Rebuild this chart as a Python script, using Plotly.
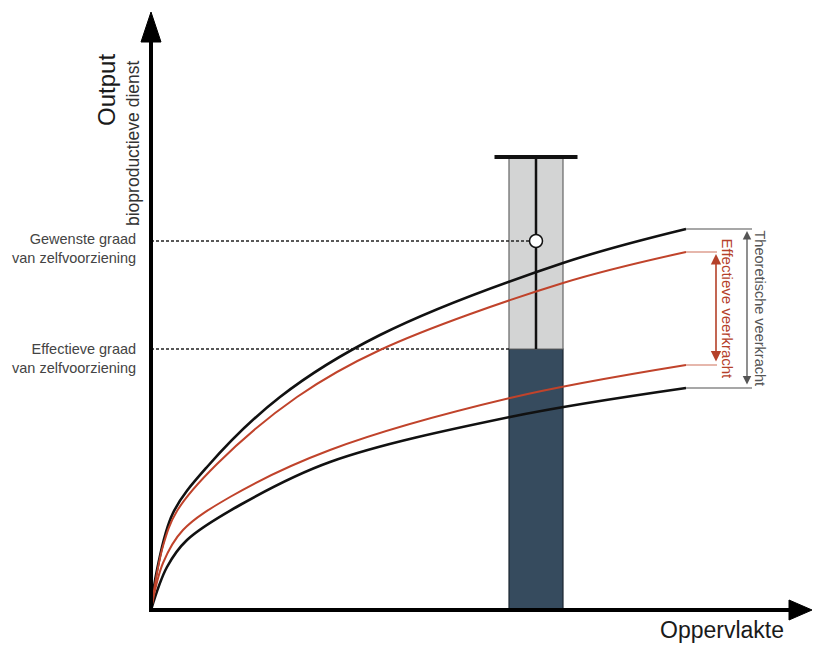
import plotly.graph_objects as go

# ---------------- data (diagram units: origin at the axes' crossing) ----------------
upper_black_x = [0, 6, 22, 56, 129, 229, 412, 535]
upper_black_y = [0, 40, 97, 143, 213, 275, 347, 381]

upper_red_x = [0, 12, 26, 66, 146, 229, 412, 535]
upper_red_y = [0, 64, 99, 146, 213, 260, 327, 358]

lower_red_x = [0, 12, 32, 79, 179, 359, 535]
lower_red_y = [0, 47, 80, 113, 160, 212, 245]

lower_black_x = [0, 16, 36, 89, 179, 359, 535]
lower_black_y = [0, 43, 70, 105, 148, 193, 222]

bar_position = 385
effective_level = 261   # Effectieve graad van zelfvoorziening
desired_level = 369     # Gewenste graad van zelfvoorziening
maximum_level = 453     # top of the range

x_axis_label = "Oppervlakte"
y_axis_label = "Output"
y_axis_sublabel = "bioproductieve dienst"
desired_label = "Gewenste graad<br>van zelfvoorziening"
effective_label = "Effectieve graad<br>van zelfvoorziening"
theoretical_label = "Theoretische veerkracht"
effective_res_label = "Effectieve veerkracht"

# ---------------- styles ----------------
FONT = "Liberation Sans, Arial, Helvetica, sans-serif"
BLACK = "#111111"
RED = "#c0432b"
DARK = "#364b5e"
GREY = "#d3d4d4"
bar_width = 54
cap_width = 83
X_MIN, X_MAX = -151, 664
Y_MIN, Y_MAX = -35, 610
y_tip, y_base = 598, 572
x_tip, x_base = 661, 642
head_half = 10
theo_ext = 66
eff_ext = 31

fig = go.Figure()

# bar (effective) and grey range above it
fig.add_trace(go.Bar(x=[bar_position], y=[effective_level], width=[bar_width],
                     marker=dict(color=DARK, line=dict(color="#1b2630", width=1.2)),
                     hoverinfo="skip"))
fig.add_trace(go.Bar(x=[bar_position], y=[maximum_level - effective_level], base=[effective_level],
                     width=[bar_width],
                     marker=dict(color=GREY, line=dict(color="#666666", width=1.2)),
                     hoverinfo="skip"))

# dotted reference lines
fig.add_trace(go.Scatter(x=[0, bar_position - bar_width / 2], y=[effective_level, effective_level],
                         mode="lines", line=dict(color="#222222", width=1.5, dash="3px,2px"),
                         hoverinfo="skip"))
fig.add_trace(go.Scatter(x=[0, bar_position], y=[desired_level, desired_level],
                         mode="lines", line=dict(color="#222222", width=1.5, dash="3px,2px"),
                         hoverinfo="skip"))

# range line with cap
fig.add_trace(go.Scatter(x=[bar_position, bar_position], y=[effective_level, maximum_level],
                         mode="lines", line=dict(color=BLACK, width=2.5), hoverinfo="skip"))
fig.add_trace(go.Scatter(x=[bar_position - cap_width / 2, bar_position + cap_width / 2],
                         y=[maximum_level, maximum_level],
                         mode="lines", line=dict(color=BLACK, width=4), hoverinfo="skip"))

# curves
for xs, ys, col, w in [(upper_black_x, upper_black_y, BLACK, 2.6),
                       (lower_black_x, lower_black_y, BLACK, 2.6),
                       (upper_red_x, upper_red_y, RED, 2.0),
                       (lower_red_x, lower_red_y, RED, 2.0)]:
    fig.add_trace(go.Scatter(x=xs, y=ys, mode="lines",
                             line=dict(color=col, width=w, shape="spline", smoothing=1.0),
                             hoverinfo="skip"))

# desired point
fig.add_trace(go.Scatter(x=[bar_position], y=[desired_level], mode="markers",
                         marker=dict(size=13, color="white", line=dict(color=BLACK, width=1.5)),
                         hoverinfo="skip"))

# bracket lines at the right ends
end_x = upper_black_x[-1]
for y0, ext, col in [(upper_black_y[-1], theo_ext, "#8a8a8a"), (lower_black_y[-1], theo_ext, "#8a8a8a"),
                     (upper_red_y[-1], eff_ext, "#d9907f"), (lower_red_y[-1], eff_ext, "#d9907f")]:
    fig.add_trace(go.Scatter(x=[end_x, end_x + ext], y=[y0, y0], mode="lines",
                             line=dict(color=col, width=1.3), hoverinfo="skip"))

# axes
fig.add_trace(go.Scatter(x=[0, 0], y=[-1, y_base], mode="lines",
                         line=dict(color="#000000", width=4), hoverinfo="skip"))
fig.add_trace(go.Scatter(x=[-2, x_base], y=[0, 0], mode="lines",
                         line=dict(color="#000000", width=4), hoverinfo="skip"))
fig.add_trace(go.Scatter(x=[-head_half, 0, head_half, -head_half], y=[y_base - 4, y_tip, y_base - 4, y_base - 4],
                         mode="lines", fill="toself", fillcolor="#000000",
                         line=dict(color="#000000", width=1), hoverinfo="skip"))
fig.add_trace(go.Scatter(x=[x_base - 4, x_tip, x_base - 4, x_base - 4], y=[head_half, 0, -head_half, head_half],
                         mode="lines", fill="toself", fillcolor="#000000",
                         line=dict(color="#000000", width=1), hoverinfo="skip"))

annotations = [
    # double arrows
    dict(x=end_x + theo_ext - 5, y=upper_black_y[-1] - 2, ax=end_x + theo_ext - 5, ay=lower_black_y[-1] + 2,
         xref="x", yref="y", axref="x", ayref="y", text="", showarrow=True,
         arrowhead=2, arrowside="end+start", arrowsize=1.3, arrowwidth=1.3, arrowcolor="#555555"),
    dict(x=end_x + eff_ext - 1, y=upper_red_y[-1] - 2, ax=end_x + eff_ext - 1, ay=lower_red_y[-1] + 2,
         xref="x", yref="y", axref="x", ayref="y", text="", showarrow=True,
         arrowhead=2, arrowside="end+start", arrowsize=1.3, arrowwidth=1.6, arrowcolor="#b5412a"),
    dict(x=end_x + theo_ext + 8, y=(upper_black_y[-1] + lower_black_y[-1]) / 2, xref="x", yref="y",
         text=theoretical_label, showarrow=False, textangle=90,
         font=dict(family=FONT, size=14.5, color="#555555")),
    dict(x=end_x + eff_ext + 10, y=(upper_red_y[-1] + lower_red_y[-1]) / 2, xref="x", yref="y",
         text=effective_res_label, showarrow=False, textangle=90,
         font=dict(family=FONT, size=15, color="#b5412a")),
    # left labels
    dict(x=-13, y=desired_level - 7, xref="x", yref="y", text=desired_label, showarrow=False,
         xanchor="right", align="right", font=dict(family=FONT, size=14.5, color="#444444")),
    dict(x=-13, y=effective_level - 9, xref="x", yref="y", text=effective_label, showarrow=False,
         xanchor="right", align="right", font=dict(family=FONT, size=14.5, color="#444444")),
    # axis titles
    dict(x=-45, y=520, xref="x", yref="y", text=y_axis_label, showarrow=False, textangle=-90,
         font=dict(family=FONT, size=24, color="#1a1a1a")),
    dict(x=-18, y=467, xref="x", yref="y", text=y_axis_sublabel, showarrow=False, textangle=-90,
         font=dict(family=FONT, size=17.5, color="#333333")),
    dict(x=571, y=-20, xref="x", yref="y", text=x_axis_label, showarrow=False,
         font=dict(family=FONT, size=23, color="#1a1a1a")),
]

fig.update_layout(
    width=815, height=645,
    margin=dict(l=0, r=0, t=0, b=0),
    paper_bgcolor="white", plot_bgcolor="white",
    showlegend=False, barmode="overlay",
    xaxis=dict(range=[X_MIN, X_MAX], visible=False, fixedrange=True),
    yaxis=dict(range=[Y_MIN, Y_MAX], visible=False, fixedrange=True),
    annotations=annotations,
)

fig.write_html("out.html", config={"displayModeBar": False},
               post_script="document.body.style.margin='0';")
